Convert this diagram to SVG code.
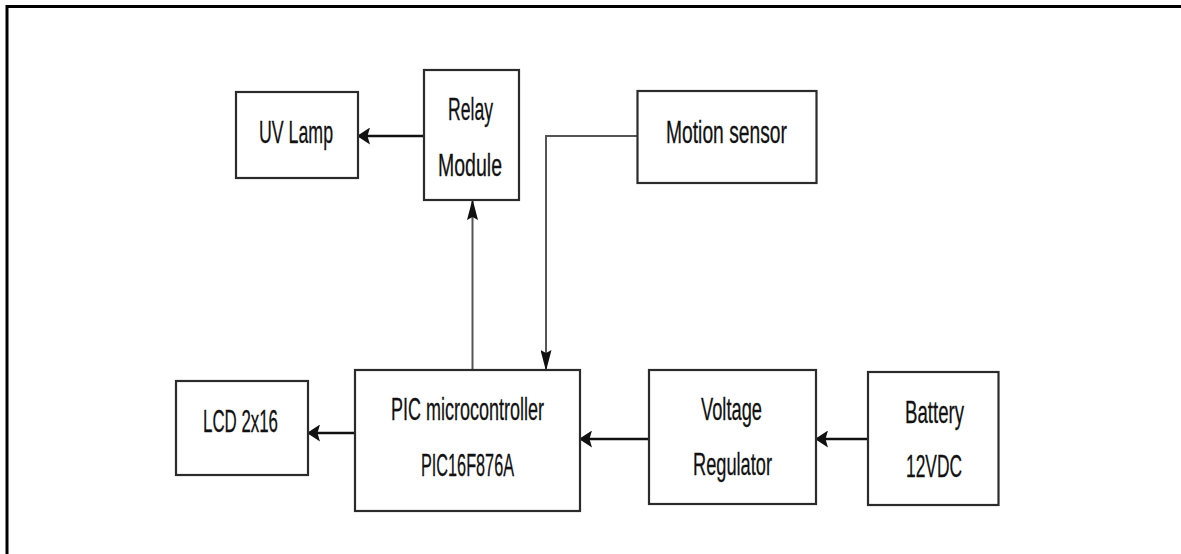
<svg xmlns="http://www.w3.org/2000/svg" width="1181" height="554" viewBox="0 0 1181 554">
<style>
.box{fill:#fff;stroke:#2b2b2b;stroke-width:2.2}
.lbl{font-family:"Liberation Sans",Arial,sans-serif;font-size:32px;fill:#111;stroke:#111;stroke-width:0.3;text-anchor:middle}
.conn{fill:none;stroke:#111;stroke-width:2.5}
.thin{fill:none;stroke:#555;stroke-width:2}
.frame{fill:none;stroke:#000;stroke-width:3}
</style>
<defs>
<marker id="arrH" markerUnits="userSpaceOnUse" viewBox="0 0 13 17" markerWidth="13" markerHeight="17" refX="12" refY="8.5" orient="auto">
<path d="M0,0 L13,8.5 L0,17 L2.5,8.5 z" fill="#111"/>
</marker>
<marker id="arrV" markerUnits="userSpaceOnUse" viewBox="0 0 21 11" markerWidth="21" markerHeight="11" refX="20" refY="5.5" orient="auto">
<path d="M0,0 L21,5.5 L0,11 L3,5.5 z" fill="#111"/>
</marker>
</defs>
<rect width="1181" height="554" fill="#fff"/>
<path class="frame" d="M7,554 V6.5 H1181"/>
<g id="connectors">
<path class="conn" d="M424,136 H358" marker-end="url(#arrH)"/>
<path class="thin" d="M472.5,370 V200" marker-end="url(#arrV)"/>
<path class="thin" d="M637.5,136 H546 V370" marker-end="url(#arrV)"/>
<path class="conn" d="M355,433 H308" marker-end="url(#arrH)"/>
<path class="conn" d="M649,439 H580" marker-end="url(#arrH)"/>
<path class="conn" d="M868,439 H816" marker-end="url(#arrH)"/>
</g>
<g id="uv-lamp">
<rect class="box" x="236" y="92" width="122" height="86"/>
<text class="lbl" x="296" y="143" textLength="74" lengthAdjust="spacingAndGlyphs">UV Lamp</text>
</g>
<g id="relay-module">
<rect class="box" x="424" y="70" width="95" height="130"/>
<text class="lbl" x="470.5" y="120" textLength="45" lengthAdjust="spacingAndGlyphs">Relay</text>
<text class="lbl" x="470" y="176" textLength="64" lengthAdjust="spacingAndGlyphs">Module</text>
</g>
<g id="motion-sensor">
<rect class="box" x="637.5" y="91" width="179" height="92"/>
<text class="lbl" x="726.5" y="143" textLength="121" lengthAdjust="spacingAndGlyphs">Motion sensor</text>
</g>
<g id="lcd">
<rect class="box" x="176" y="381" width="132" height="94"/>
<text class="lbl" x="240.5" y="432" textLength="75" lengthAdjust="spacingAndGlyphs">LCD 2x16</text>
</g>
<g id="pic">
<rect class="box" x="355" y="370" width="225" height="141"/>
<text class="lbl" x="467.5" y="420" textLength="153" lengthAdjust="spacingAndGlyphs">PIC microcontroller</text>
<text class="lbl" x="467.5" y="476" textLength="93" lengthAdjust="spacingAndGlyphs">PIC16F876A</text>
</g>
<g id="voltage-regulator">
<rect class="box" x="649" y="370" width="167" height="134"/>
<text class="lbl" x="731.5" y="420" textLength="61" lengthAdjust="spacingAndGlyphs">Voltage</text>
<text class="lbl" x="732.5" y="475" textLength="79" lengthAdjust="spacingAndGlyphs">Regulator</text>
</g>
<g id="battery">
<rect class="box" x="868" y="372" width="130.5" height="133"/>
<text class="lbl" x="934.5" y="423" textLength="59" lengthAdjust="spacingAndGlyphs">Battery</text>
<text class="lbl" x="934" y="476.5" textLength="56" lengthAdjust="spacingAndGlyphs">12VDC</text>
</g>
</svg>
